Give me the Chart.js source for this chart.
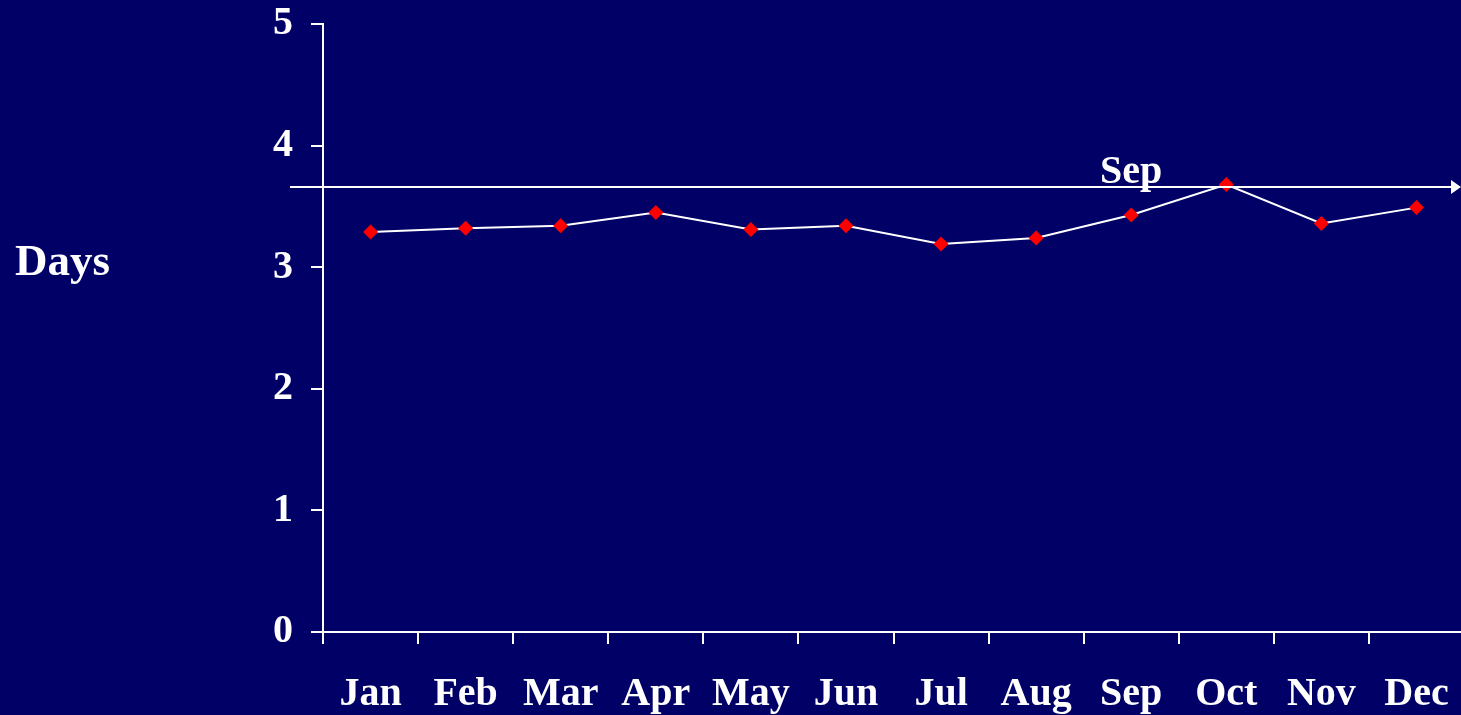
<!DOCTYPE html>
<html>
<head>
<meta charset="utf-8">
<script src="https://cdn.jsdelivr.net/npm/chart.js@4"></script>
<style>
  html, body { margin: 0; padding: 0; background: #000066; overflow: hidden; }
  #wrap { width: 1461px; height: 715px; overflow: hidden; position: relative; }
  #inner { position: absolute; left: 0; top: -18px; width: 1476px; height: 733px; }
</style>
</head>
<body>
<div id="wrap"><div id="inner"><canvas id="daysChart"></canvas></div></div>
<script>
const months = ['Jan', 'Feb', 'Mar', 'Apr', 'May', 'Jun', 'Jul', 'Aug', 'Sep', 'Oct', 'Nov', 'Dec'];
const days = [3.29, 3.32, 3.34, 3.45, 3.31, 3.34, 3.19, 3.24, 3.43, 3.68, 3.36, 3.49];
const refValue = 3.66;
const refLabel = 'Sep';
const refLabelMonth = 'Sep';
const yTitle = 'Days';

const serif = "'Liberation Serif', 'Times New Roman', serif";

// horizontal arrow line, its label and the flat "Days" title
const extras = {
    id: 'extras',
    afterDraw(chart) {
        const ctx = chart.ctx;
        const x = chart.scales.x;
        const y = chart.scales.y;
        const yRef = y.getPixelForValue(refValue);
        const endX = Math.min(chart.chartArea.right, 1461);

        ctx.save();
        ctx.strokeStyle = '#ffffff';
        ctx.fillStyle = '#ffffff';
        ctx.lineWidth = 2;
        ctx.beginPath();
        ctx.moveTo(290, yRef);
        ctx.lineTo(endX - 8, yRef);
        ctx.stroke();
        ctx.beginPath();
        ctx.moveTo(endX - 10, yRef - 7);
        ctx.lineTo(endX, yRef);
        ctx.lineTo(endX - 10, yRef + 7);
        ctx.closePath();
        ctx.fill();

        ctx.font = 'bold 40px ' + serif;
        ctx.textAlign = 'center';
        ctx.textBaseline = 'alphabetic';
        ctx.fillText(refLabel, x.getPixelForValue(months.indexOf(refLabelMonth)), yRef - 4);

        ctx.font = 'bold 45px ' + serif;
        ctx.textAlign = 'left';
        ctx.textBaseline = 'middle';
        ctx.fillText(yTitle, 15, 281);
        ctx.restore();
    }
};

new Chart(document.getElementById('daysChart'), {
    type: 'line',
    data: {
        labels: months,
        datasets: [{
            data: days,
            borderColor: '#ffffff',
            borderWidth: 2,
            tension: 0,
            pointStyle: 'rectRot',
            pointRadius: 7.5,
            pointBackgroundColor: '#ff0000',
            pointBorderColor: '#ff0000',
            pointBorderWidth: 0
        }]
    },
    options: {
        responsive: true,
        maintainAspectRatio: false,
        animation: false,
        layout: { padding: 0 },
        plugins: { legend: { display: false }, tooltip: { enabled: false } },
        scales: {
            x: {
                offset: true,
                grid: { offset: true, drawOnChartArea: false, color: '#ffffff', tickLength: 12, lineWidth: 2 },
                border: { color: '#ffffff', width: 2 },
                ticks: {
                    color: '#ffffff',
                    font: { family: serif, size: 40, weight: 'bold' },
                    padding: 27,
                    maxRotation: 0,
                    autoSkip: false
                },
                afterFit: s => { s.height = 83; }
            },
            y: {
                min: 0,
                max: 5,
                grid: { drawOnChartArea: false, color: '#ffffff', tickLength: 12, lineWidth: 2 },
                border: { color: '#ffffff', width: 2 },
                ticks: {
                    stepSize: 1,
                    color: '#ffffff',
                    font: { family: serif, size: 40, weight: 'bold' },
                    padding: 18
                },
                afterFit: s => { s.width = 323; }
            }
        }
    },
    plugins: [extras]
});
</script>
</body>
</html>
